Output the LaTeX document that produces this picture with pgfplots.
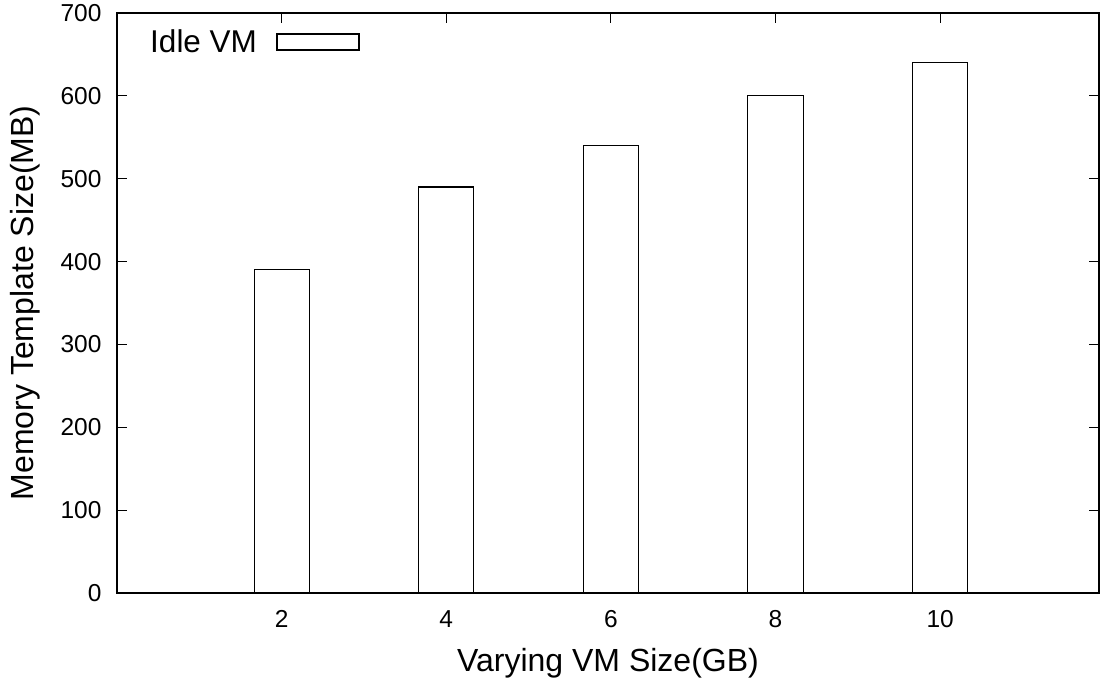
\documentclass[border=0pt]{standalone}
\usepackage{pgfplots}
\pgfplotsset{compat=1.18}
\usepackage{fontspec}
\setmainfont{Liberation Sans}
\begin{document}
\begin{tikzpicture}
\begin{axis}[
  scale only axis,
  width=982pt, height=580pt,
  xmin=0, xmax=11.93, ymin=0, ymax=700,
  xtick={2,4,6,8,10},
  ytick={0,100,200,300,400,500,600,700},
  tick align=inside,
  major tick length=10pt,
  axis line style={line width=1.3pt},
  every tick/.style={line width=1.1pt, black},
  /pgf/number format/assume math mode=true,
  tick label style={font=\fontsize{24.5}{28}\selectfont},
  yticklabel style={xshift=-12pt},
  xticklabel style={yshift=-14pt},
  label style={font=\fontsize{32}{38}\selectfont},
  xlabel={Varying VM Size(GB)},
  ylabel={Memory Template Size(MB)},
  xlabel style={at={(axis description cs:0.5,0)}, anchor=base, yshift=-78pt},
  ylabel style={at={(axis description cs:-0.0937,0.5)}, anchor=center},
  legend style={at={(axis description cs:0.0316,0.950)}, anchor=west, draw=none, fill=none,
    inner sep=0pt, font=\fontsize{31.5}{36}\selectfont},
  legend plot pos=right,
  legend image code/.code={\path[draw=none, fill=none] (0pt,-8pt) rectangle (100pt,8pt);
    \draw[black, line width=1.1pt, fill=white] (18pt,-8pt) rectangle (100pt,8pt);},
]
\addplot[ybar, bar width=0.67, draw=black, fill=white, line width=1.1pt] coordinates {
  (2,390) (4,490) (6,540) (8,600) (10,640)
};
\addlegendentry{Idle VM}
\coordinate (O) at (rel axis cs:0,0);
\end{axis}
\pgfresetboundingbox
\path (O) ++(-117pt,-86pt) rectangle ++(1100pt,679pt);
\end{tikzpicture}
\end{document}
